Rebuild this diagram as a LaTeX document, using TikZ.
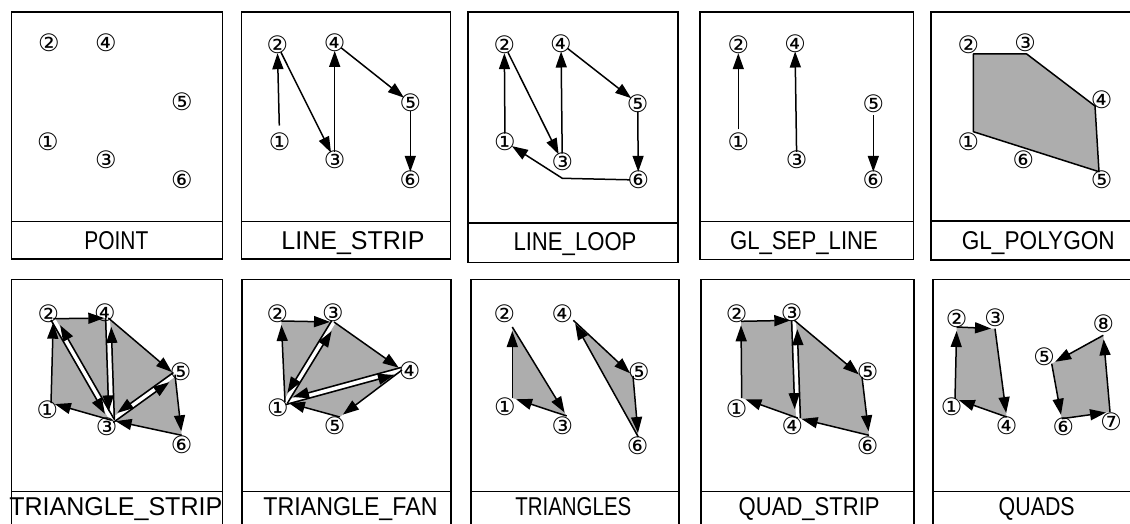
\documentclass[tikz,border=0pt]{standalone}
\usepackage{fontspec}
\usepackage{graphicx}
\usetikzlibrary{arrows.meta,calc}
\newfontfamily\cdfont{DejaVu Sans}
\newfontfamily\capfont{Liberation Sans}
\newsavebox\cdbox
% circled vertex number, centred on the node centre with no box size of its own
\newcommand\circnum[1]{\sbox\cdbox{\cdfont\fontsize{24pt}{24pt}\selectfont #1}\raisebox{\dimexpr(\dp\cdbox-\ht\cdbox)/2\relax}[0pt][0pt]{\makebox[0pt]{\usebox\cdbox}}}
% primitive name under each panel
\newcommand\captxt[2]{\resizebox{#1}{18pt}{\capfont #2}}
\tikzset{
  frame/.style={draw=black, line width=1.6pt},
  num/.style={circle, inner sep=0pt, minimum size=16pt},
  arr/.style={line width=1.5pt, -{Triangle[length=16pt,width=11pt]}},
  farr/.style={arr, shorten >=4pt},
  shade/.style={fill=black!32},
  gap/.style={draw=white, line width=3.5pt},
  caption/.style={anchor=base, inner sep=0pt},
}
% a shared edge drawn as two opposite arrows, each kept to its right
\newcommand\twoway[2]{%
  \draw[arr, shorten >=9pt] ($(#1)!2.7pt!-90:(#2)$) -- ($(#2)!2.7pt!90:(#1)$);
  \draw[arr, shorten >=9pt] ($(#2)!2.7pt!-90:(#1)$) -- ($(#1)!2.7pt!90:(#2)$);
}
\begin{document}
\begin{tikzpicture}[x=1pt,y=-1pt]
\useasboundingbox (0,0) rectangle (1130,524);
\clip (0,0) rectangle (1130,524);

% ---------- panel frames ----------
\draw[frame] (11.5,12) rectangle (222.5,259);   \draw[frame] (11.5,221.5) -- (222.5,221.5);
\draw[frame] (241.5,12) rectangle (450.5,259);  \draw[frame] (241.5,221.5) -- (450.5,221.5);
\draw[frame] (468,12) rectangle (678,262.5);    \draw[frame] (468,223) -- (678,223);
\draw[frame] (700,12) rectangle (913.5,259.5);  \draw[frame] (700,221.5) -- (913.5,221.5);
\draw[frame] (931,12) rectangle (1150,260);     \draw[frame] (931,221) -- (1150,221);

\draw[frame] (11.5,279.5) rectangle (222.5,540); \draw[frame] (11.5,491.5) -- (222.5,491.5);
\draw[frame] (242,279.5) rectangle (451,540);    \draw[frame] (242,491.5) -- (451,491.5);
\draw[frame] (471,279.5) rectangle (679,540);    \draw[frame] (471,491.5) -- (679,491.5);
\draw[frame] (701,279.5) rectangle (914,540);    \draw[frame] (701,491.5) -- (914,491.5);
\draw[frame] (933,279.5) rectangle (1150,540);   \draw[frame] (933,491.5) -- (1150,491.5);

% ---------- captions ----------
\node[caption] (cap-pt) at (116.3,249) {\captxt{64pt}{POINT}};
\node[caption] (cap-ls) at (353,249)   {\captxt{143pt}{LINE\_STRIP}};
\node[caption] (cap-ll) at (575,250)   {\captxt{123pt}{LINE\_LOOP}};
\node[caption] (cap-sl) at (804,249)   {\captxt{148pt}{GL\_SEP\_LINE}};
\node[caption] (cap-pg) at (1038.3,249){\captxt{153pt}{GL\_POLYGON}};
\node[caption] (cap-ts) at (115.8,515) {\captxt{213pt}{TRIANGLE\_STRIP}};
\node[caption] (cap-tf) at (350.5,515) {\captxt{174pt}{TRIANGLE\_FAN}};
\node[caption] (cap-tr) at (573.3,515) {\captxt{116pt}{TRIANGLES}};
\node[caption] (cap-qs) at (809.2,515) {\captxt{141pt}{QUAD\_STRIP}};
\node[caption] (cap-qd) at (1036.7,515){\captxt{76pt}{QUADS}};

% ---------- POINT ----------
\node[num] (pt-1) at (48,142)  {\circnum{①}};
\node[num] (pt-2) at (49,43)   {\circnum{②}};
\node[num] (pt-3) at (106,160) {\circnum{③}};
\node[num] (pt-4) at (106,43)  {\circnum{④}};
\node[num] (pt-5) at (182,102) {\circnum{⑤}};
\node[num] (pt-6) at (182,180) {\circnum{⑥}};

% ---------- LINE_STRIP ----------
\node[num] (ls-1) at (279.7,141.7) {\circnum{①}};
\node[num] (ls-2) at (277.3,45)    {\circnum{②}};
\node[num] (ls-3) at (334.7,160)   {\circnum{③}};
\node[num] (ls-4) at (334.7,42.7)  {\circnum{④}};
\node[num] (ls-5) at (410.3,102.7) {\circnum{⑤}};
\node[num] (ls-6) at (410.3,180)   {\circnum{⑥}};
\draw[arr, shorten <=8pt] (ls-1) -- (ls-2);
\draw[arr] (ls-2) -- (ls-3);
\draw[arr] (ls-3) -- (ls-4);
\draw[arr] (ls-4) -- (ls-5);
\draw[arr] (ls-5) -- (ls-6);

% ---------- LINE_LOOP ----------
\node[num] (ll-1) at (505,141.7)   {\circnum{①}};
\node[num] (ll-2) at (504.3,45)    {\circnum{②}};
\node[num] (ll-3) at (562.3,161.7) {\circnum{③}};
\node[num] (ll-4) at (561,43.3)    {\circnum{④}};
\node[num] (ll-5) at (637.7,103.3) {\circnum{⑤}};
\node[num] (ll-6) at (638.3,180)   {\circnum{⑥}};
\coordinate (ll-bend) at (562.3,178.3);
\draw[arr] (ll-1) -- (ll-2);
\draw[arr] (ll-2) -- (ll-3);
\draw[arr] (ll-3) -- (ll-4);
\draw[arr] (ll-4) -- (ll-5);
\draw[arr] (ll-5) -- (ll-6);
\draw[arr] (ll-6) -- (ll-bend) -- (ll-1);

% ---------- GL_SEP_LINE ----------
\node[num] (sl-1) at (738.3,141.7) {\circnum{①}};
\node[num] (sl-2) at (738.3,45)    {\circnum{②}};
\node[num] (sl-3) at (796.7,160)   {\circnum{③}};
\node[num] (sl-4) at (795,43.3)    {\circnum{④}};
\node[num] (sl-5) at (873.3,103.3) {\circnum{⑤}};
\node[num] (sl-6) at (873.3,180)   {\circnum{⑥}};
\draw[arr, shorten <=4pt] (sl-1) -- (sl-2);
\draw[arr] (sl-3) -- (sl-4);
\draw[arr, shorten <=4pt] (sl-5) -- (sl-6);

% ---------- GL_POLYGON ----------
\coordinate (pg-v1) at (973.3,131.7);
\coordinate (pg-v2) at (973.3,54);
\coordinate (pg-v3) at (1026.7,54);
\coordinate (pg-v4) at (1095,106);
\coordinate (pg-v5) at (1099,171.7);
\coordinate (pg-v6) at ($(pg-v5)!0.6!(pg-v1)$);
\filldraw[shade, line width=1.5pt, line join=round]
  (pg-v1) -- (pg-v2) -- (pg-v3) -- (pg-v4) -- (pg-v5) -- (pg-v6) -- cycle;
\node[num] (pg-1) at (968.3,141.7) {\circnum{①}};
\node[num] (pg-2) at (968.3,45)    {\circnum{②}};
\node[num] (pg-3) at (1025,42.7)   {\circnum{③}};
\node[num] (pg-4) at (1101.7,99.3) {\circnum{④}};
\node[num] (pg-5) at (1101.7,180)  {\circnum{⑤}};
\node[num] (pg-6) at (1023.3,160)  {\circnum{⑥}};

% ---------- TRIANGLE_STRIP ----------
\coordinate (ts-v1) at (51,403);
\coordinate (ts-v2) at (53.3,318.7);
\coordinate (ts-v3) at (111.7,420.3);
\coordinate (ts-v4) at (108.3,318);
\coordinate (ts-v5) at (175,374.7);
\coordinate (ts-v6) at (181.7,435.3);
\fill[shade] (ts-v1) -- (ts-v2) -- (ts-v4) -- (ts-v5) -- (ts-v6) -- (ts-v3) -- cycle;
\draw[gap] (ts-v2) -- (ts-v3);
\draw[gap] (ts-v4) -- (ts-v3);
\draw[gap] (ts-v5) -- (ts-v3);
\draw[farr] (ts-v1) -- (ts-v2);
\twoway{ts-v2}{ts-v3}
\draw[farr] (ts-v2) -- (ts-v4);
\twoway{ts-v4}{ts-v3}
\draw[farr] (ts-v4) -- (ts-v5);
\twoway{ts-v5}{ts-v3}
\draw[farr] (ts-v5) -- (ts-v6);
\draw[farr] (ts-v6) -- (ts-v3);
\draw[farr] (ts-v3) -- (ts-v1);
\node[num] (ts-1) at (47.5,410)    {\circnum{①}};
\node[num] (ts-2) at (48.3,313.7)  {\circnum{②}};
\node[num] (ts-3) at (106.7,427)   {\circnum{③}};
\node[num] (ts-4) at (105,313)     {\circnum{④}};
\node[num] (ts-5) at (180.7,372)   {\circnum{⑤}};
\node[num] (ts-6) at (181.7,444.3) {\circnum{⑥}};

% ---------- TRIANGLE_FAN ----------
\coordinate (tf-v1) at (285,402);
\coordinate (tf-v2) at (281.3,321);
\coordinate (tf-v3) at (334,322);
\coordinate (tf-v4) at (402,370);
\coordinate (tf-v5) at (339.7,417);
\fill[shade] (tf-v1) -- (tf-v2) -- (tf-v3) -- (tf-v4) -- (tf-v5) -- cycle;
\draw[gap] (tf-v1) -- (tf-v3);
\draw[gap] (tf-v1) -- (tf-v4);
\draw[farr] (tf-v1) -- (tf-v2);
\draw[farr] (tf-v2) -- (tf-v3);
\twoway{tf-v3}{tf-v1}
\draw[farr] (tf-v3) -- (tf-v4);
\twoway{tf-v4}{tf-v1}
\draw[farr] (tf-v4) -- (tf-v5);
\draw[farr] (tf-v5) -- (tf-v1);
\node[num] (tf-1) at (278,408)     {\circnum{①}};
\node[num] (tf-2) at (277.3,313.7) {\circnum{②}};
\node[num] (tf-3) at (333,312.7)   {\circnum{③}};
\node[num] (tf-4) at (409.7,370.3) {\circnum{④}};
\node[num] (tf-5) at (334.7,425.3) {\circnum{⑤}};

% ---------- TRIANGLES ----------
\coordinate (tr-v1) at (512.3,398);
\coordinate (tr-v2) at (512.3,327);
\coordinate (tr-v3) at (566.7,416);
\coordinate (tr-v4) at (573.3,320.3);
\coordinate (tr-v5) at (633,376);
\coordinate (tr-v6) at (638.3,437);
\fill[shade] (tr-v1) -- (tr-v2) -- (tr-v3) -- cycle;
\fill[shade] (tr-v4) -- (tr-v5) -- (tr-v6) -- cycle;
\draw[farr] (tr-v1) -- (tr-v2);
\draw[farr] (tr-v2) -- (tr-v3);
\draw[farr] (tr-v3) -- (tr-v1);
\draw[farr] (tr-v4) -- (tr-v5);
\draw[farr] (tr-v5) -- (tr-v6);
\draw[farr] (tr-v6) -- (tr-v4);
\node[num] (tr-1) at (505,407)     {\circnum{①}};
\node[num] (tr-2) at (504.3,313.7) {\circnum{②}};
\node[num] (tr-3) at (562.3,425.3) {\circnum{③}};
\node[num] (tr-4) at (562.3,313.7) {\circnum{④}};
\node[num] (tr-5) at (639,372)     {\circnum{⑤}};
\node[num] (tr-6) at (637.7,445.3) {\circnum{⑥}};

% ---------- QUAD_STRIP ----------
\coordinate (qs-v1) at (741.7,398);
\coordinate (qs-v2) at (741,321.3);
\coordinate (qs-v3) at (794.3,320.3);
\coordinate (qs-v4) at (797.7,418);
\coordinate (qs-v5) at (862,377);
\coordinate (qs-v6) at (869,435.3);
\fill[shade] (qs-v1) -- (qs-v2) -- (qs-v3) -- (qs-v5) -- (qs-v6) -- (qs-v4) -- cycle;
\draw[gap] (qs-v3) -- (qs-v4);
\draw[farr] (qs-v1) -- (qs-v2);
\draw[farr] (qs-v2) -- (qs-v3);
\twoway{qs-v3}{qs-v4}
\draw[farr] (qs-v3) -- (qs-v5);
\draw[farr] (qs-v5) -- (qs-v6);
\draw[farr] (qs-v6) -- (qs-v4);
\draw[farr] (qs-v4) -- (qs-v1);
\node[num] (qs-1) at (736.7,408.7) {\circnum{①}};
\node[num] (qs-2) at (736.7,313.7) {\circnum{②}};
\node[num] (qs-3) at (791.7,312.7) {\circnum{③}};
\node[num] (qs-4) at (792.3,425.3) {\circnum{④}};
\node[num] (qs-5) at (867.7,372)   {\circnum{⑤}};
\node[num] (qs-6) at (867.7,446)   {\circnum{⑥}};

% ---------- QUADS ----------
\coordinate (qd-v1) at (955,398.7);
\coordinate (qd-v2) at (956.7,327);
\coordinate (qd-v3) at (995,328.7);
\coordinate (qd-v4) at (1006.7,417);
\coordinate (qd-v5) at (1051.7,363.7);
\coordinate (qd-v6) at (1061.7,418.7);
\coordinate (qd-v7) at (1110,412);
\coordinate (qd-v8) at (1103.3,335.3);
\fill[shade] (qd-v1) -- (qd-v2) -- (qd-v3) -- (qd-v4) -- cycle;
\fill[shade] (qd-v5) -- (qd-v6) -- (qd-v7) -- (qd-v8) -- cycle;
\draw[farr] (qd-v1) -- (qd-v2);
\draw[farr] (qd-v2) -- (qd-v3);
\draw[farr] (qd-v3) -- (qd-v4);
\draw[farr] (qd-v4) -- (qd-v1);
\draw[farr] (qd-v5) -- (qd-v6);
\draw[farr] (qd-v6) -- (qd-v7);
\draw[farr] (qd-v7) -- (qd-v8);
\draw[farr] (qd-v8) -- (qd-v5);
\node[num] (qd-1) at (951.7,407)    {\circnum{①}};
\node[num] (qd-2) at (956.7,318.7)  {\circnum{②}};
\node[num] (qd-3) at (995,318)      {\circnum{③}};
\node[num] (qd-4) at (1006.7,426)   {\circnum{④}};
\node[num] (qd-5) at (1044,357)     {\circnum{⑤}};
\node[num] (qd-6) at (1063.3,427)   {\circnum{⑥}};
\node[num] (qd-7) at (1111,422)     {\circnum{⑦}};
\node[num] (qd-8) at (1103.3,323.7) {\circnum{⑧}};
\end{tikzpicture}
\end{document}
